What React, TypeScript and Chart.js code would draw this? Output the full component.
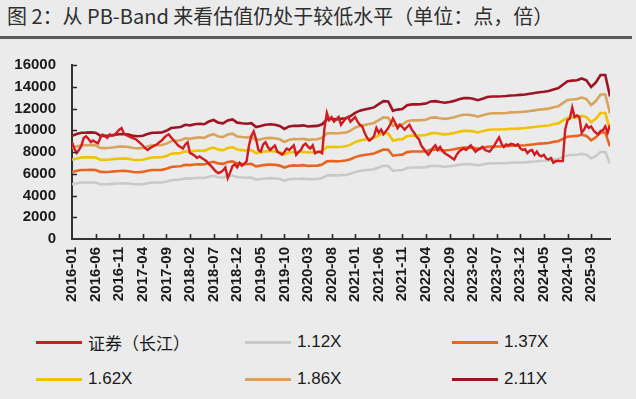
import React, { useEffect, useRef } from 'react';
import { Chart, registerables } from 'chart.js';

Chart.register(...registerables);

const titleText = '图 2：从 PB-Band 来看估值仍处于较低水平（单位：点，倍）';

const tickLabels = [
  '2016-01', '2016-06', '2016-11', '2017-04', '2017-09', '2018-02', '2018-07', '2018-12',
  '2019-05', '2019-10', '2020-03', '2020-08', '2021-01', '2021-06', '2021-11', '2022-04',
  '2022-09', '2023-02', '2023-07', '2023-12', '2024-05', '2024-10', '2025-03',
];

const seriesNames = ['证券（长江）', '1.12X', '1.37X', '1.62X', '1.86X', '2.11X'];
const seriesColors = ['#d21a1f', '#c9c9c9', '#ea6420', '#f0c300', '#d8a45c', '#9e1422'];

// half-monthly closing values of the index (starting 2016-01)
const brokerage = [
  8900, 8300, 7900, 8200, 8600, 9300, 9450, 9200, 8900, 9050,
  8900, 8800, 9300, 9600, 9450, 9300, 9600, 9500, 9550, 9800,
  10050, 10200, 9700, 9550, 9450, 9340, 9250, 9190, 9000, 8800,
  8600, 8350, 8180, 8350, 8470, 8600, 8700, 8900, 9050, 9300,
  9500, 9630, 9340, 9100, 8850, 8600, 8450, 8320, 8700, 8900,
  7890, 7800, 7650, 7450, 7600, 7450, 7300, 7160, 6900, 6700,
  6450, 6200, 6050, 6150, 6300, 6580, 5600, 6100, 6700, 6870,
  6600, 7000, 6750, 6900, 7160, 8600, 9480, 9900, 9200, 8180,
  8030, 8700, 8900, 8450, 8180, 8400, 8600, 8030, 7900, 7750,
  8000, 8320, 8180, 8400, 8610, 7740, 8000, 8180, 8610, 8760,
  8500, 8320, 8610, 7890, 8000, 8030, 7890, 10200, 11600, 10930,
  11200, 10800, 11000, 11220, 10500, 10800, 11080, 11220, 10790, 11000,
  11220, 10790, 10500, 10350, 9770, 9340, 9050, 9200, 9480, 10200,
  9770, 10060, 9630, 9900, 10200, 10600, 11080, 10640, 10200, 10500,
  10300, 10060, 10300, 10500, 10060, 9770, 9400, 9190, 8610, 8300,
  8000, 7740, 8030, 8400, 8610, 8180, 8470, 8100, 7890, 7740,
  7600, 7450, 7310, 7740, 8030, 8200, 8320, 8180, 8400, 8610,
  8320, 8030, 8200, 8320, 8470, 8180, 8100, 8030, 8320, 8610,
  9000, 9340, 8760, 8470, 8700, 8610, 8760, 8700, 8610, 8700,
  8320, 8180, 8250, 7890, 8100, 8180, 7740, 8030, 7700, 7600,
  7740, 7400, 7310, 7450, 7020, 7160, 7200, 7160, 7160, 10060,
  10930, 11080, 12090, 11220, 11370, 11220, 9770, 10060, 10500, 10210,
  10350, 10000, 9770, 9630, 9920, 10000, 10350, 9770, 10500,
];

// monthly PB band values (starting 2016-01)
const band112 = [
  5030, 5120, 5190, 5190, 5200, 5190, 5040, 5030, 5050, 5090,
  5110, 5120, 5100, 5030, 5020, 5040, 5120, 5190, 5190, 5200,
  5280, 5410, 5440, 5470, 5570, 5550, 5600, 5630, 5600, 5730,
  5810, 5680, 5650, 5790, 5830, 5680, 5650, 5630, 5650, 5460,
  5520, 5570, 5600, 5570, 5520, 5370, 5490, 5530, 5520, 5550,
  5490, 5510, 5520, 5600, 5840, 5870, 5840, 5870, 5890, 6000,
  6160, 6260, 6320, 6370, 6420, 6580, 6730, 6710, 6260, 6320,
  6340, 6530, 6570, 6570, 6580, 6610, 6710, 6730, 6690, 6650,
  6690, 6740, 6820, 6870, 6880, 6850, 6770, 6850, 6930, 6960,
  6960, 6960, 6980, 7010, 7020, 7030, 7050, 7090, 7120, 7170,
  7190, 7220, 7300, 7350, 7530, 7700, 7730, 7750, 7830, 7750,
  7420, 7640, 8000, 8000, 6950,
];

const band137 = [
  6160, 6270, 6340, 6350, 6360, 6340, 6170, 6160, 6180, 6220,
  6250, 6270, 6230, 6160, 6140, 6170, 6270, 6340, 6350, 6360,
  6460, 6620, 6660, 6690, 6820, 6790, 6850, 6880, 6850, 7010,
  7100, 6950, 6910, 7080, 7140, 6950, 6910, 6880, 6920, 6680,
  6750, 6820, 6850, 6820, 6750, 6570, 6720, 6770, 6750, 6790,
  6720, 6740, 6750, 6850, 7140, 7170, 7140, 7170, 7210, 7340,
  7530, 7660, 7730, 7790, 7860, 8050, 8230, 8210, 7660, 7730,
  7760, 7990, 8040, 8040, 8050, 8080, 8210, 8230, 8180, 8140,
  8180, 8250, 8340, 8410, 8420, 8380, 8290, 8380, 8470, 8510,
  8510, 8520, 8540, 8570, 8580, 8600, 8620, 8670, 8710, 8770,
  8790, 8830, 8930, 8990, 9210, 9410, 9450, 9480, 9580, 9480,
  9080, 9350, 9790, 9790, 8510,
];

const band162 = [
  7280, 7410, 7500, 7510, 7520, 7500, 7290, 7280, 7310, 7360,
  7390, 7410, 7370, 7280, 7260, 7290, 7410, 7500, 7510, 7520,
  7640, 7830, 7870, 7910, 8060, 8020, 8100, 8140, 8100, 8290,
  8400, 8220, 8170, 8370, 8440, 8220, 8170, 8140, 8180, 7900,
  7990, 8060, 8100, 8060, 7990, 7770, 7950, 8000, 7990, 8020,
  7950, 7970, 7990, 8100, 8450, 8480, 8450, 8480, 8520, 8680,
  8910, 9060, 9140, 9210, 9290, 9520, 9740, 9710, 9060, 9140,
  9180, 9440, 9510, 9510, 9520, 9560, 9710, 9740, 9670, 9620,
  9670, 9750, 9870, 9940, 9950, 9900, 9800, 9900, 10020, 10070,
  10070, 10070, 10100, 10140, 10150, 10170, 10200, 10250, 10300, 10370,
  10400, 10440, 10560, 10630, 10890, 11130, 11180, 11210, 11330, 11210,
  10730, 11060, 11580, 11580, 10060,
];

const band186 = [
  8360, 8510, 8610, 8620, 8640, 8610, 8370, 8360, 8390, 8440,
  8490, 8510, 8460, 8360, 8330, 8370, 8510, 8610, 8620, 8640,
  8770, 8990, 9040, 9080, 9260, 9210, 9300, 9340, 9300, 9520,
  9640, 9430, 9380, 9610, 9690, 9430, 9380, 9340, 9390, 9070,
  9170, 9260, 9300, 9260, 9170, 8920, 9120, 9190, 9170, 9210,
  9120, 9150, 9170, 9300, 9700, 9740, 9700, 9740, 9780, 9960,
  10230, 10400, 10490, 10580, 10670, 10930, 11180, 11150, 10400, 10490,
  10530, 10840, 10910, 10910, 10930, 10970, 11150, 11180, 11110, 11050,
  11110, 11200, 11330, 11420, 11420, 11370, 11250, 11370, 11500, 11560,
  11560, 11570, 11590, 11640, 11650, 11680, 11710, 11770, 11830, 11900,
  11940, 11990, 12120, 12210, 12500, 12780, 12830, 12870, 13010, 12870,
  12320, 12690, 13290, 13290, 11550,
];

const band211 = [
  9480, 9650, 9770, 9780, 9800, 9770, 9500, 9480, 9520, 9580,
  9630, 9650, 9600, 9480, 9450, 9500, 9650, 9770, 9780, 9800,
  9950, 10200, 10250, 10300, 10500, 10450, 10550, 10600, 10550, 10800,
  10940, 10700, 10640, 10900, 10990, 10700, 10640, 10600, 10650, 10290,
  10400, 10500, 10550, 10500, 10400, 10120, 10350, 10420, 10400, 10450,
  10350, 10380, 10400, 10550, 11000, 11050, 11000, 11050, 11100, 11300,
  11600, 11800, 11900, 12000, 12100, 12400, 12680, 12650, 11800, 11900,
  11950, 12300, 12380, 12380, 12400, 12450, 12650, 12680, 12600, 12530,
  12600, 12700, 12850, 12950, 12960, 12900, 12760, 12900, 13050, 13110,
  13110, 13120, 13150, 13200, 13220, 13250, 13280, 13350, 13420, 13500,
  13540, 13600, 13750, 13850, 14180, 14500, 14560, 14600, 14760, 14600,
  13980, 14400, 15080, 15080, 13100,
];

const LATIN = '"Liberation Sans", Arial, "Noto Sans CJK SC", sans-serif';
const CJK = '"Noto Sans CJK SC", "Liberation Sans", sans-serif';

const halfMonthly = (arr: number[]) => arr.map((v, i) => ({ x: i / 2, y: v }));
const monthly = (arr: number[]) => arr.map((v, i) => ({ x: i, y: v }));

const innerTicks = {
  id: 'innerTicks',
  afterDraw(chart: any) {
    const { ctx, chartArea, scales } = chart;
    const xs = scales.x;
    const ys = scales.y;
    ctx.save();
    ctx.strokeStyle = '#2a2a2a';
    ctx.lineWidth = 1.6;
    ctx.beginPath();
    xs.ticks.forEach((t: any) => {
      if (t.value % 5 !== 0 || t.value === 0) return;
      const px = Math.round(xs.getPixelForValue(t.value)) + 0.5;
      ctx.moveTo(px, chartArea.bottom);
      ctx.lineTo(px, chartArea.bottom - 5);
    });
    ys.ticks.forEach((t: any) => {
      if (t.value === 0) return;
      const py = Math.round(ys.getPixelForValue(t.value)) + 0.5;
      ctx.moveTo(chartArea.left, py);
      ctx.lineTo(chartArea.left + 5, py);
    });
    ctx.stroke();
    ctx.restore();
  },
};

export default function App() {
  const canvasRef = useRef<HTMLCanvasElement | null>(null);

  useEffect(() => {
    if (!canvasRef.current) return;
    const sources = [halfMonthly(brokerage), monthly(band112), monthly(band137), monthly(band162), monthly(band186), monthly(band211)];
    const chart = new Chart(canvasRef.current, {
      type: 'line',
      data: {
        datasets: sources.map((d, i) => ({
          label: seriesNames[i],
          data: d,
          borderColor: seriesColors[i],
          backgroundColor: seriesColors[i],
          borderWidth: i === 0 ? 2.4 : 2.6,
          pointRadius: 0,
          tension: 0,
          fill: false,
        })),
      },
      options: {
        responsive: false,
        animation: false,
        devicePixelRatio: 1,
        layout: { padding: { left: 0, right: 8, top: 15, bottom: 0 } },
        plugins: {
          legend: { display: false },
          title: { display: false },
          tooltip: { enabled: false },
        },
        scales: {
          x: {
            type: 'linear',
            min: 0,
            max: 114,
            grid: { display: false, drawTicks: false },
            border: { display: true, color: '#333', width: 2 },
            ticks: {
              stepSize: 5,
              autoSkip: false,
              maxRotation: 90,
              minRotation: 90,
              padding: 8,
              color: '#1a1a1a',
              font: { family: LATIN, size: 15, weight: 'bold' },
              callback: (v: any) => (Number(v) % 5 === 0 ? tickLabels[Number(v) / 5] ?? '' : ''),
            },
            afterFit: (s: any) => { s.height = 81; },
          },
          y: {
            min: 0,
            max: 16000,
            grid: { display: false, drawTicks: false },
            border: { display: true, color: '#333', width: 2 },
            ticks: {
              stepSize: 2000,
              padding: 16,
              color: '#1a1a1a',
              font: { family: LATIN, size: 15, weight: 'bold' },
              callback: (v: any) => String(v),
            },
            afterFit: (s: any) => { s.width = 72; },
          },
        },
      },
      plugins: [innerTicks],
    });
    return () => chart.destroy();
  }, []);

  const legendCols = [36, 245, 452];
  const legendRows = [330, 367];

  return (
    <div style={{ position: 'absolute', left: 0, top: 0, width: 636, height: 399, background: '#ebebeb', overflow: 'hidden' }}>
      <div style={{ position: 'absolute', left: 7, top: 3, fontFamily: CJK, fontSize: 20, lineHeight: '25px', color: '#2e2e2e', whiteSpace: 'pre' }}>
        {titleText}
      </div>
      <div style={{ position: 'absolute', left: 0, top: 36, width: 632, height: 3, background: '#5a5a5a' }} />
      <canvas ref={canvasRef} width={636} height={280} style={{ position: 'absolute', left: 0, top: 40, width: 636, height: 280 }} />
      {seriesNames.map((name, i) => (
        <div
          key={name}
          style={{
            position: 'absolute',
            left: legendCols[i % 3],
            top: legendRows[Math.floor(i / 3)],
            height: 24,
            display: 'flex',
            alignItems: 'center',
            whiteSpace: 'nowrap',
          }}
        >
          <span style={{ display: 'inline-block', width: 46, height: 3, background: seriesColors[i], marginRight: 6 }} />
          <span style={{ fontFamily: i === 0 ? CJK : LATIN, fontSize: 17, color: '#1a1a1a' }}>{name}</span>
        </div>
      ))}
    </div>
  );
}
